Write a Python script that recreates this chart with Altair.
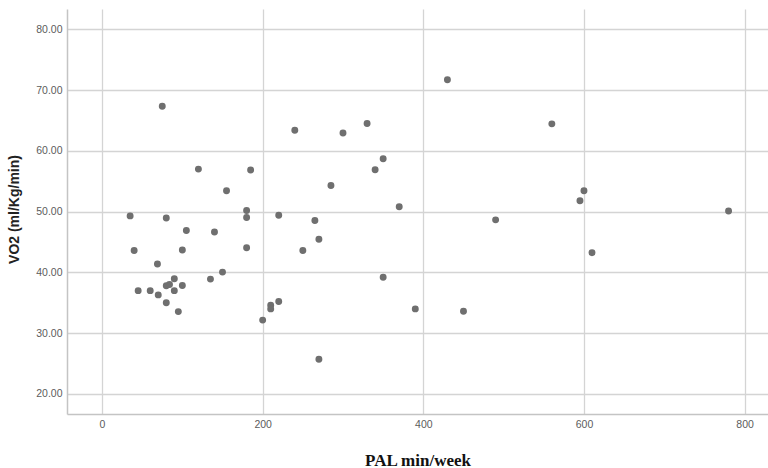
import altair as alt
import pandas as pd

pal = [75, 35, 80, 105, 140, 120, 155, 185, 180, 180,
       40, 69, 45, 60, 70, 80, 80, 84, 90, 90,
       100, 95, 100, 135, 150, 180, 200, 210, 210, 220,
       220, 240, 250, 265, 270, 270, 285, 300, 330, 340,
       350, 350, 370, 390, 430, 450, 490, 560, 595, 600,
       610, 780]
vo2 = [67.35, 49.3, 48.95, 46.9, 46.65, 57.0, 53.45, 56.85, 50.2, 49.05,
       43.6, 41.4, 37.0, 37.0, 36.3, 35.0, 37.8, 38.0, 38.95, 37.0,
       37.85, 33.55, 43.7, 38.9, 40.05, 44.05, 32.15, 34.6, 34.0, 35.2,
       49.4, 63.4, 43.6, 48.55, 45.45, 25.7, 54.3, 62.95, 64.5, 56.9,
       58.7, 39.2, 50.8, 34.0, 71.7, 33.6, 48.65, 64.45, 51.8, 53.45,
       43.25, 50.1]

x_ticks = [0, 200, 400, 600, 800]
y_ticks = [20, 30, 40, 50, 60, 70, 80]

df = pd.DataFrame({"PAL": pal, "VO2": vo2})

chart = alt.Chart(df).mark_circle(size=48, color="#6f6f6f", opacity=1).encode(
    x=alt.X("PAL:Q",
            scale=alt.Scale(domain=[-43.6, 829.1], nice=False, zero=False),
            axis=alt.Axis(values=x_ticks, format="d", title="PAL min/week",
                          ticks=False, labelPadding=5, labelFontSize=10.5,
                          labelColor="#5c5c5c", labelFont="Liberation Sans",
                          titleFont="Liberation Serif", titleFontSize=17,
                          titleFontWeight="bold", titleColor="#111111",
                          titleBaseline="alphabetic", titleY=51,
                          domainColor="#c4c4c4", domainWidth=1.5,
                          gridColor="#d4d4d4", gridWidth=1.3)),
    y=alt.Y("VO2:Q",
            scale=alt.Scale(domain=[16.7, 83.35], nice=False, zero=False),
            axis=alt.Axis(values=y_ticks, format=".2f", title="VO2 (ml/Kg/min)",
                          ticks=False, labelPadding=5, labelFontSize=10.5,
                          labelColor="#5c5c5c", labelFont="Liberation Sans",
                          titleFont="Liberation Sans", titleFontSize=14,
                          titleFontWeight="bold", titleColor="#222222",
                          titleBaseline="middle", titleAngle=270,
                          titleX=-53, titleY=200,
                          domainColor="#c4c4c4", domainWidth=1.5,
                          gridColor="#d4d4d4", gridWidth=1.3)),
).properties(
    width=701, height=405,
    autosize=alt.AutoSizeParams(type="none"),
    padding={"left": 67, "top": 9, "right": 0, "bottom": 54},
    background="white",
).configure_view(stroke=None)

chart.save("out.html", embed_options={"renderer": "svg", "actions": False})
